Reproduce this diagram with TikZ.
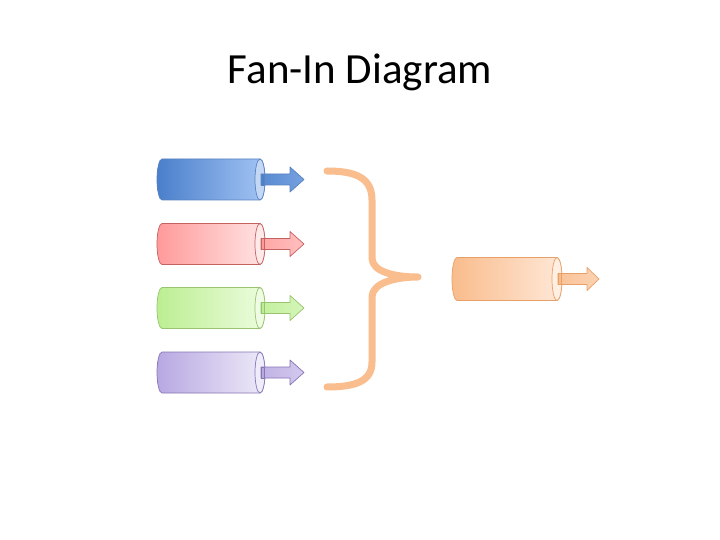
\documentclass[tikz,border=0pt]{standalone}
\usepackage{fontspec}
\setmainfont{Carlito}
\usetikzlibrary{calc}
\definecolor{bL}{HTML}{4A7FCB}\definecolor{bR}{HTML}{A3C4F4}\definecolor{bB}{HTML}{5882C0}\definecolor{bE}{HTML}{C4D8F6}
\definecolor{rL}{HTML}{FF9A9A}\definecolor{rR}{HTML}{FFE4E4}\definecolor{rB}{HTML}{C46262}\definecolor{rE}{HTML}{FFEAEA}
\definecolor{gL}{HTML}{BCEE92}\definecolor{gR}{HTML}{ECFCDE}\definecolor{gB}{HTML}{98C470}\definecolor{gE}{HTML}{EEFCE4}
\definecolor{pL}{HTML}{B8A8E2}\definecolor{pR}{HTML}{EEEAF8}\definecolor{pB}{HTML}{8676B4}\definecolor{pE}{HTML}{F0ECFA}
\definecolor{oL}{HTML}{F9BC8C}\definecolor{oR}{HTML}{FFE8D8}\definecolor{oB}{HTML}{E8A06A}\definecolor{oE}{HTML}{FFEEE2}
\definecolor{brace}{HTML}{F9BD8E}
\tikzset{cylline/.style={line width=0.7pt,line join=round}}
% #1 x1, #2 x2, #3 yc, #4 half h, #5 shaft end, #6 tip, #7 prefix, #8 head half
\newcommand{\cylarrow}[8]{%
  \path[cylline,draw=#7B,left color=#7L,right color=#7R]
    (#1+5,#3-#4) -- (#2,#3-#4) arc[start angle=-90,end angle=90,x radius=5,y radius=#4]
    -- (#1+5,#3+#4) arc[start angle=90,end angle=270,x radius=5,y radius=#4] -- cycle;
  \path[cylline,draw=#7B,fill=#7E] (#2,#3) ellipse[x radius=5,y radius=#4];
  \path[cylline,draw=#7B,left color=#7L!85!#7R,right color=#7L!50!#7R]
    (#2+1,#3-5.5) -- (#5,#3-5.5) -- (#5,#3-#8) -- (#6,#3) -- (#5,#3+#8) -- (#5,#3+5.5) -- (#2+1,#3+5.5) -- cycle;
  \path[fill=#7L,draw=#7B,line width=0.5pt] (#2+1,#3-5.5) rectangle (#2+4,#3+5.5);
}
\begin{document}
\begin{tikzpicture}[x=1pt,y=-1pt]
\useasboundingbox[fill=white] (0,0) rectangle (720,540);
\node[font=\fontsize{43}{50}\selectfont,anchor=base,inner sep=0pt] (title) at (360,84) {Fan-In Diagram};
\cylarrow{157}{260}{179.5}{20.5}{290}{304}{b}{12.5}
\cylarrow{157}{260}{244}{20.5}{290}{304}{r}{12.5}
\cylarrow{157}{260}{308}{20.5}{290}{304}{g}{12.5}
\cylarrow{157}{260}{372.5}{20.5}{290}{304}{p}{12.5}
\cylarrow{452}{557}{279}{21.5}{587}{599}{o}{11.5}
\draw[brace,line width=7pt,line cap=round,line join=round]
  (327,171) .. controls (356,171) and (372,178) .. (372,200) -- (372,258)
  .. controls (372,272) and (395,277) .. (418,277)
  .. controls (395,277) and (372,283) .. (372,297) -- (372,362)
  .. controls (372,381) and (356,387) .. (327,387);
\end{tikzpicture}
\end{document}
